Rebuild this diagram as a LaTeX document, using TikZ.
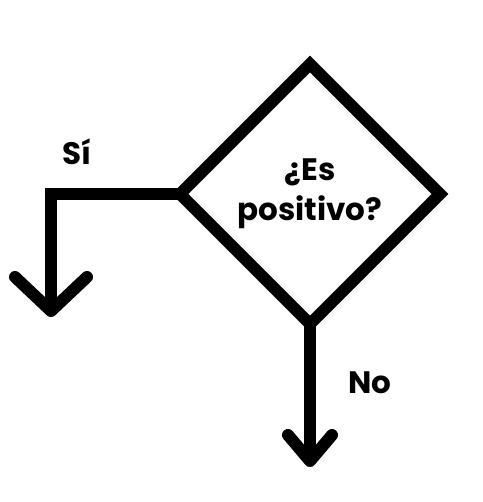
\documentclass[tikz,border=0pt]{standalone}
\usepackage{fontspec}
\setmainfont{Poppins}
\usetikzlibrary{arrows.meta, shapes.geometric, positioning}

\tikzset{
  flow/.style={line width=12pt},
  decision/.style={diamond, draw, line width=12pt, minimum width=260pt, minimum height=260pt,
    inner sep=0pt, outer sep=0pt, align=center, font=\fontsize{31}{40}\selectfont\bfseries},
  label/.style={font=\fontsize{31}{36}\selectfont\bfseries},
}

\begin{document}
\begin{tikzpicture}[x=1pt, y=-1pt]
                        \useasboundingbox (0,0) rectangle (482,502);
                        \node[decision] (q) at (310, 194) {¿Es\\positivo?};
                        \coordinate (si) at (51, 317);
                        \coordinate (no) at (310, 467);
                        \node[label] (lsi) at (77, 152) {Sí};
                        \node[label] (lno) at (370, 383) {No};
                        \draw[flow, -{Straight Barb[length=34pt, width=72pt, round]}]
                        (q.west) -| (si);
                        \draw[flow, -{Straight Barb[length=26pt, width=44pt, round]}]
                        (q.south) -- (no);
                    \end{tikzpicture}
\end{document}
